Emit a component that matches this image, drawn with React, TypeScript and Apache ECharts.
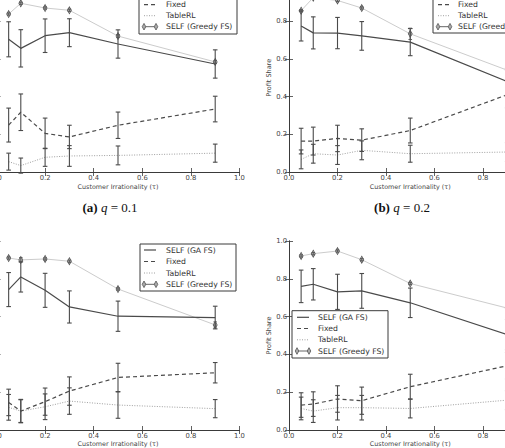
import React, { useEffect, useRef } from "react";
import * as echarts from "echarts";

const X = [0.05, 0.1, 0.2, 0.3, 0.5, 0.9];

const LEGEND_NAMES = ["SELF (GA FS)", "Fixed", "TableRL", "SELF (Greedy FS)"];
const CAPTIONS = [
  { tag: "(a)", q: "0.1" },
  { tag: "(b)", q: "0.2" },
];

// Panel (a) q = 0.1
const gaA = [0.704, 0.656, 0.723, 0.739, 0.679, 0.573];
const gaErrA = [0.093, 0.099, 0.089, 0.074, 0.075, 0.075];
const fixedA = [0.249, 0.317, 0.205, 0.186, 0.248, 0.334];
const fixedErrA = [0.09, 0.097, 0.081, 0.062, 0.07, 0.068];
const tableA = [0.055, 0.034, 0.078, 0.085, 0.088, 0.1];
const tableErrA = [0.045, 0.04, 0.048, 0.055, 0.05, 0.048];
const greedyA = [0.838, 0.895, 0.87, 0.858, 0.721, 0.584];
const greedyErrA = [0.006, 0.006, 0.006, 0.006, 0.008, 0.008];

// Panel (b) q = 0.2
const gaB = [0.775, 0.738, 0.737, 0.722, 0.689, 0.48];
const gaErrB = [0.08, 0.085, 0.083, 0.076, 0.072, 0.07];
const fixedB = [0.164, 0.164, 0.178, 0.169, 0.22, 0.41];
const fixedErrB = [0.068, 0.074, 0.07, 0.06, 0.066, 0.07];
const tableB = [0.067, 0.097, 0.09, 0.115, 0.097, 0.106];
const tableErrB = [0.05, 0.05, 0.05, 0.05, 0.045, 0.05];
const greedyB = [0.856, 0.925, 0.91, 0.87, 0.733, 0.54];
const greedyErrB = [0.006, 0.006, 0.006, 0.006, 0.03, 0.008];

// Panel (c)
const gaC = [0.743, 0.81, 0.739, 0.651, 0.602, 0.595];
const gaErrC = [0.09, 0.08, 0.09, 0.085, 0.08, 0.06];
const fixedC = [0.146, 0.1, 0.15, 0.206, 0.278, 0.303];
const fixedErrC = [0.07, 0.062, 0.072, 0.075, 0.075, 0.054];
const tableC = [0.12, 0.1, 0.123, 0.153, 0.132, 0.113];
const tableErrC = [0.068, 0.06, 0.068, 0.07, 0.07, 0.048];
const greedyC = [0.91, 0.9, 0.905, 0.893, 0.746, 0.556];
const greedyErrC = [0.006, 0.012, 0.006, 0.006, 0.006, 0.016];

// Panel (d)
const gaD = [0.76, 0.771, 0.731, 0.736, 0.673, 0.505];
const gaErrD = [0.086, 0.083, 0.093, 0.092, 0.078, 0.08];
const fixedD = [0.132, 0.137, 0.164, 0.155, 0.229, 0.34];
const fixedErrD = [0.065, 0.065, 0.07, 0.072, 0.066, 0.07];
const tableD = [0.114, 0.1, 0.118, 0.118, 0.114, 0.158];
const tableErrD = [0.06, 0.06, 0.065, 0.065, 0.05, 0.05];
const greedyD = [0.921, 0.933, 0.947, 0.901, 0.775, 0.645];
const greedyErrD = [0.006, 0.006, 0.006, 0.006, 0.006, 0.008];

const PANELS = [
  { ga: gaA, gaE: gaErrA, fx: fixedA, fxE: fixedErrA, tb: tableA, tbE: tableErrA, gr: greedyA, grE: greedyErrA },
  { ga: gaB, gaE: gaErrB, fx: fixedB, fxE: fixedErrB, tb: tableB, tbE: tableErrB, gr: greedyB, grE: greedyErrB },
  { ga: gaC, gaE: gaErrC, fx: fixedC, fxE: fixedErrC, tb: tableC, tbE: tableErrC, gr: greedyC, grE: greedyErrC },
  { ga: gaD, gaE: gaErrD, fx: fixedD, fxE: fixedErrD, tb: tableD, tbE: tableErrD, gr: greedyD, grE: greedyErrD },
];

const FONT = "DejaVu Sans";
const FRAME = "#3a3a3a";
const DARK = "#4a4a4a";
const LIGHT = "#cccccc";
const DOTTED = "#a0a0a0";
const DIAMOND = "path://M0,-1 L0.55,0 L0,1 L-0.55,0 Z";

const GRIDS = [
  { left: -3.5, top: -16.5, width: 243, height: 188.5 },
  { left: 289, top: -16.5, width: 242.5, height: 188.5 },
  { left: -3.5, top: 241, width: 243, height: 189 },
  { left: 289, top: 241, width: 242.5, height: 189 },
];

function errSeries(p: number, vals: number[], errs: number[], color: string, cap: number, lw: number) {
  return {
    type: "custom",
    xAxisIndex: 2 * p,
    yAxisIndex: 2 * p,
    silent: true,
    z: 4,
    clip: false,
    data: X.map((x, i) => [x, vals[i] - errs[i], vals[i] + errs[i]]),
    encode: { x: 0, y: [1, 2] },
    renderItem: (params: any, api: any) => {
      const x = api.value(0);
      const lo = api.coord([x, api.value(1)]);
      const hi = api.coord([x, api.value(2)]);
      const st = { stroke: color, lineWidth: lw };
      return {
        type: "group",
        children: [
          { type: "line", shape: { x1: lo[0], y1: lo[1], x2: hi[0], y2: hi[1] }, style: st },
          { type: "line", shape: { x1: lo[0] - cap, y1: lo[1], x2: lo[0] + cap, y2: lo[1] }, style: st },
          { type: "line", shape: { x1: hi[0] - cap, y1: hi[1], x2: hi[0] + cap, y2: hi[1] }, style: st },
        ],
      };
    },
  };
}

function legendGraphic(bx: number, by: number, bw: number, bh: number, rows: number[], sx: number, tx: number, names: string[]) {
  const els: any[] = [
    { type: "rect", shape: { x: bx, y: by, width: bw, height: bh }, style: { fill: "#fff", stroke: FRAME, lineWidth: 1 }, z: 100 },
  ];
  names.forEach((name, k) => {
    const idx = LEGEND_NAMES.indexOf(name);
    const y = rows[k];
    if (idx === 0) {
      els.push({ type: "line", shape: { x1: sx, y1: y, x2: sx + 12, y2: y }, style: { stroke: DARK, lineWidth: 1.2 }, z: 101 });
    } else if (idx === 1) {
      els.push({ type: "line", shape: { x1: sx, y1: y, x2: sx + 12, y2: y }, style: { stroke: DARK, lineWidth: 1.2, lineDash: [4, 3] }, z: 101 });
    } else if (idx === 2) {
      els.push({ type: "line", shape: { x1: sx, y1: y, x2: sx + 12, y2: y }, style: { stroke: DOTTED, lineWidth: 1, lineDash: [1, 1.5] }, z: 101 });
    } else {
      els.push({ type: "line", shape: { x1: sx, y1: y, x2: sx + 12, y2: y }, style: { stroke: "#666", lineWidth: 1 }, z: 101 });
      [sx, sx + 12].forEach((cx) => {
        els.push({
          type: "polygon",
          shape: { points: [[cx, y - 3.3], [cx + 1.8, y], [cx, y + 3.3], [cx - 1.8, y]] },
          style: { fill: "#aaa", stroke: "#555", lineWidth: 0.8 },
          z: 102,
        });
      });
    }
    els.push({
      type: "text",
      x: tx,
      y: y,
      style: { text: name, fontFamily: FONT, fontSize: 7.7, fill: "#333", verticalAlign: "middle", align: "left" },
      z: 101,
    });
  });
  return els;
}

function captionGraphic(cx: number, cy: number, tag: string, q: string) {
  return {
    type: "text",
    x: cx,
    y: cy,
    z: 100,
    style: {
      text: `{b|${tag}} {i|q} {n|= ${q}}`,
      align: "center",
      verticalAlign: "middle",
      fill: "#111",
      rich: {
        b: { fontFamily: "Liberation Serif", fontWeight: "bold", fontSize: 13, fill: "#111" },
        i: { fontFamily: "Liberation Serif", fontStyle: "italic", fontSize: 13, fill: "#111" },
        n: { fontFamily: "Liberation Serif", fontSize: 13, fill: "#111" },
      },
    },
  };
}

export default function App() {
  const ref = useRef<HTMLDivElement>(null);
  useEffect(() => {
    if (!ref.current) return;
    const chart = echarts.init(ref.current, null, { renderer: "svg" });

    const xAxes: any[] = [];
    const yAxes: any[] = [];
    const series: any[] = [];

    PANELS.forEach((d, p) => {
      const isRight = p % 2 === 1;
      const isBottom = p >= 2;
      const axisLine = { show: true, lineStyle: { color: FRAME, width: 1 } };
      const tick = { show: true, inside: true, length: 4, lineStyle: { color: FRAME, width: 0.8 } };
      xAxes.push({
        type: "value",
        gridIndex: p,
        min: 0,
        max: 1,
        interval: 0.2,
        position: "bottom",
        axisLine,
        axisTick: tick,
        splitLine: { show: false },
        axisLabel: {
          fontFamily: FONT,
          fontSize: 6.8,
          color: "#444",
          margin: 2,
          showMaxLabel: !isRight,
          formatter: (v: number) => v.toFixed(1),
        },
        name: "Customer Irrationality (\u03c4)",
        nameLocation: "middle",
        nameGap: isBottom ? 10.5 : 12,
        nameTextStyle: { fontFamily: FONT, fontSize: 6.4, color: "#444" },
      });
      xAxes.push({
        type: "value",
        gridIndex: p,
        min: 0,
        max: 1,
        interval: 0.2,
        position: "top",
        axisLine,
        axisTick: tick,
        splitLine: { show: false },
        axisLabel: { show: false },
      });
      yAxes.push({
        type: "value",
        gridIndex: p,
        min: 0,
        max: 1,
        interval: 0.2,
        position: "left",
        axisLine,
        axisTick: tick,
        splitLine: { show: false },
        axisLabel: {
          show: isRight,
          fontFamily: FONT,
          fontSize: 6.8,
          color: "#444",
          margin: 2,
          showMaxLabel: p === 3,
          formatter: (v: number) => v.toFixed(1),
        },
        name: isRight ? "Profit Share" : "",
        nameLocation: "middle",
        nameGap: 11,
        nameTextStyle: { fontFamily: FONT, fontSize: 6.5, color: "#444" },
      });
      yAxes.push({
        type: "value",
        gridIndex: p,
        min: 0,
        max: 1,
        interval: 0.2,
        position: "right",
        axisLine,
        axisTick: tick,
        splitLine: { show: false },
        axisLabel: { show: false },
      });

      const base = { xAxisIndex: 2 * p, yAxisIndex: 2 * p, silent: true, clip: false };
      series.push({
        ...base,
        type: "line",
        name: LEGEND_NAMES[3],
        data: X.map((x, i) => [x, d.gr[i]]),
        lineStyle: { color: LIGHT, width: 1 },
        symbol: DIAMOND,
        symbolSize: [4, 7],
        itemStyle: { color: "#b0b0b0", borderColor: "#555", borderWidth: 0.8 },
        z: 2,
      });
      series.push({
        ...base,
        type: "line",
        name: LEGEND_NAMES[2],
        data: X.map((x, i) => [x, d.tb[i]]),
        lineStyle: { color: DOTTED, width: 1, type: [1, 1.5] },
        symbol: "none",
        z: 2,
      });
      series.push({
        ...base,
        type: "line",
        name: LEGEND_NAMES[1],
        data: X.map((x, i) => [x, d.fx[i]]),
        lineStyle: { color: DARK, width: 1.2, type: [4, 3] },
        symbol: "none",
        z: 3,
      });
      series.push({
        ...base,
        type: "line",
        name: LEGEND_NAMES[0],
        data: X.map((x, i) => [x, d.ga[i]]),
        lineStyle: { color: DARK, width: 1.2 },
        symbol: "none",
        z: 3,
      });
      series.push(errSeries(p, d.ga, d.gaE, DARK, 2.3, 1.1));
      series.push(errSeries(p, d.fx, d.fxE, DARK, 2.3, 1.1));
      series.push(errSeries(p, d.tb, d.tbE, DARK, 2.3, 1.1));
      series.push(errSeries(p, d.gr, d.grE, "#555", 1.8, 0.9));
    });

    const graphic: any[] = [
      ...legendGraphic(139, -10, 98, 44, [4.7, 15.7, 26.7], 144, 166, LEGEND_NAMES.slice(1)),
      ...legendGraphic(433, -10, 100, 43, [4.7, 15.7, 26.7], 438, 458, LEGEND_NAMES.slice(1)),
      ...legendGraphic(140, 244, 96, 47, [250, 261.5, 273, 284.3], 144, 166, LEGEND_NAMES),
      ...legendGraphic(292, 310.7, 96, 47.3, [317.3, 328.5, 339.8, 351], 297, 318, LEGEND_NAMES),
      captionGraphic(110, 207.5, CAPTIONS[0].tag, CAPTIONS[0].q),
      captionGraphic(402, 207.5, CAPTIONS[1].tag, CAPTIONS[1].q),
    ];

    chart.setOption({
      animation: false,
      backgroundColor: "#fff",
      grid: GRIDS.map((g) => ({ ...g, containLabel: false, outerBoundsMode: "none", show: false })),
      xAxis: xAxes,
      yAxis: yAxes,
      series,
      graphic,
    });
    return () => chart.dispose();
  }, []);
  return <div ref={ref} style={{ position: "absolute", left: 0, top: 0, width: 505, height: 448 }} />;
}
